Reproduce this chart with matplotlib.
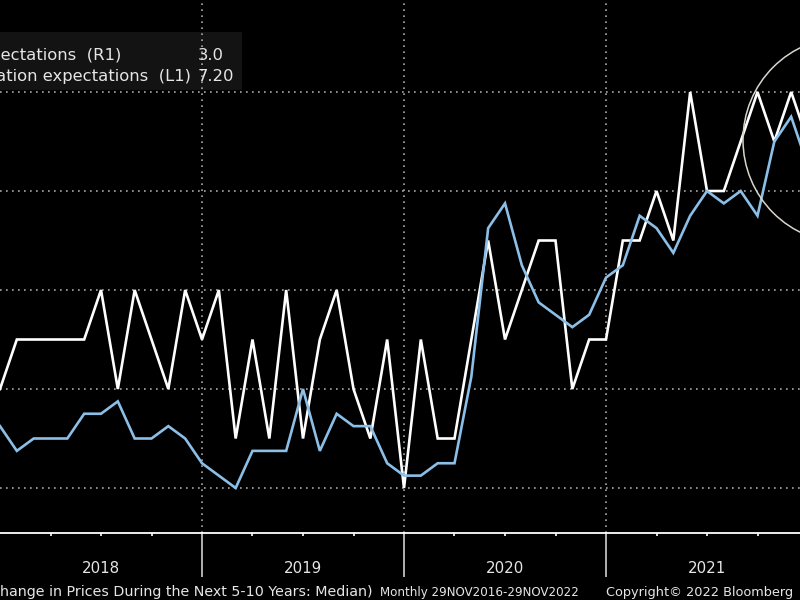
import matplotlib
matplotlib.use("Agg")
import matplotlib.pyplot as plt
import matplotlib.transforms as mtransforms
from matplotlib.patches import Rectangle, Ellipse

# monthly observations, Jan 2018 .. Jan 2022 (visible window)
months = ["2018-01", "2018-02", "2018-03", "2018-04", "2018-05", "2018-06",
          "2018-07", "2018-08", "2018-09", "2018-10", "2018-11", "2018-12",
          "2019-01", "2019-02", "2019-03", "2019-04", "2019-05", "2019-06",
          "2019-07", "2019-08", "2019-09", "2019-10", "2019-11", "2019-12",
          "2020-01", "2020-02", "2020-03", "2020-04", "2020-05", "2020-06",
          "2020-07", "2020-08", "2020-09", "2020-10", "2020-11", "2020-12",
          "2021-01", "2021-02", "2021-03", "2021-04", "2021-05", "2021-06",
          "2021-07", "2021-08", "2021-09", "2021-10", "2021-11", "2021-12",
          "2022-01"]

# 5-10 year expectations (R1, white)
r1_values = [2.4, 2.5, 2.5, 2.5, 2.5, 2.5, 2.6, 2.4, 2.6, 2.5, 2.4, 2.6,
             2.5, 2.6, 2.3, 2.5, 2.3, 2.6, 2.3, 2.5, 2.6, 2.4, 2.3, 2.5,
             2.2, 2.5, 2.3, 2.3, 2.5, 2.7, 2.5, 2.6, 2.7, 2.7, 2.4, 2.5,
             2.5, 2.7, 2.7, 2.8, 2.7, 3.0, 2.8, 2.8, 2.9, 3.0, 2.9, 3.0,
             2.9]

# 12-month expectations (L1, blue)
l1_values = [4.5, 4.3, 4.4, 4.4, 4.4, 4.6, 4.6, 4.7, 4.4, 4.4, 4.5, 4.4,
             4.2, 4.1, 4.0, 4.3, 4.3, 4.3, 4.8, 4.3, 4.6, 4.5, 4.5, 4.2,
             4.1, 4.1, 4.2, 4.2, 4.9, 6.1, 6.3, 5.8, 5.5, 5.4, 5.3, 5.4,
             5.7, 5.8, 6.2, 6.1, 5.9, 6.2, 6.4, 6.3, 6.4, 6.2, 6.8, 7.0,
             6.6]

years = ["2018", "2019", "2020", "2021"]
r1_grid = [2.2, 2.4, 2.6, 2.8, 3.0]

legend_names = ["University of Michigan 5-10 year inflation expectations  (R1)",
                "Conference Board 12-month consumer inflation expectations  (L1)"]
legend_last = ["3.0", "7.20"]

BG = "black"
WHITE = "#ffffff"
BLUE = "#8bbfe8"
GRID = "#a8a8a8"
TXT = "#e6e6e6"
FONT = "DejaVu Sans"

W, H = 800, 600
fig = plt.figure(figsize=(8, 6), dpi=100, facecolor=BG)
ax = fig.add_axes([0, 67 / H, 1, 533 / H])
ax.set_facecolor(BG)
ax2 = ax.twinx()

x = list(range(len(months)))
ax.set_xlim(0, 800 / (202 / 12))
ax.set_ylim(2.2 - 45 / 495, 2.2 + 488 / 495)
ax2.set_ylim(4.0 - 45 / 123.75, 4.0 + 488 / 123.75)

# grid
for g in r1_grid:
    ax.axhline(g, color=GRID, lw=1.2, ls=(0, (1.0, 2.6)), zorder=1)
for k in (12, 24, 36):
    ax.axvline(k, color=GRID, lw=1.2, ls=(0, (1.0, 2.6)), zorder=1)

ax.plot(x, r1_values, color=WHITE, lw=1.9, zorder=3, solid_joinstyle="miter")
ax2.plot(x, l1_values, color=BLUE, lw=1.9, zorder=3, solid_joinstyle="miter")

for a in (ax, ax2):
    for s in ("top", "left", "right"):
        a.spines[s].set_visible(False)
    a.spines["bottom"].set_color(WHITE)
    a.spines["bottom"].set_linewidth(1.3)
    a.set_yticks([])
ax2.spines["bottom"].set_visible(False)

ax.set_xticks([12, 24, 36])
ax.set_xticks([k for k in range(3, 48, 3) if k % 12], minor=True)
ax.tick_params(axis="x", which="major", length=32, width=1.2, color="#cfcfcf",
               direction="out", labelbottom=False)
ax.tick_params(axis="x", which="minor", length=2.5, width=1.2, color=WHITE,
               direction="out")

# year labels centred in each year
trans = mtransforms.blended_transform_factory(ax.transData, fig.transFigure)
for i, yr in enumerate(years):
    ax.text(6 + 12 * i, 1 - 573 / H, yr, transform=trans, ha="center",
            va="baseline", color=TXT, fontsize=10.8, family=FONT)

# legend box (cropped at the left edge)
box = Rectangle((0, 1 - 90 / H), 242 / W, 58 / H, transform=fig.transFigure,
                facecolor="#131313", edgecolor="none", zorder=0.5)
ax.add_patch(box)
fig.text(121 / W, 1 - 60 / H, legend_names[0], ha="right", va="baseline",
         color=TXT, fontsize=11.8, family=FONT)
fig.text(191 / W, 1 - 81 / H, legend_names[1], ha="right", va="baseline",
         color=TXT, fontsize=11.8, family=FONT)
fig.text(198 / W, 1 - 60 / H, legend_last[0], ha="left", va="baseline",
         color=TXT, fontsize=11.8, family=FONT)
fig.text(198 / W, 1 - 81 / H, legend_last[1], ha="left", va="baseline",
         color=TXT, fontsize=11.8, family=FONT)

# highlight circle
fig.add_artist(Ellipse((846 / W, 1 - 140 / H), 2 * 103 / W, 2 * 103 / H,
                       transform=fig.transFigure, fill=False,
                       edgecolor="#d9d5cc", lw=1.1))

# footer
fig.text(373 / W, 1 - 596 / H,
         "(University of Michigan Survey: Expected Change in Prices During the Next 5-10 Years: Median)",
         ha="right", va="baseline", color=TXT, fontsize=10.3, family=FONT)
fig.text(380 / W, 1 - 596 / H, "Monthly 29NOV2016-29NOV2022", ha="left",
         va="baseline", color=TXT, fontsize=8.6, family=FONT)
fig.text(606 / W, 1 - 596 / H, "Copyright\u00a9 2022 Bloomberg", ha="left",
         va="baseline", color=TXT, fontsize=9.3, family=FONT)

fig.savefig("out.png", dpi=100, facecolor=BG)
